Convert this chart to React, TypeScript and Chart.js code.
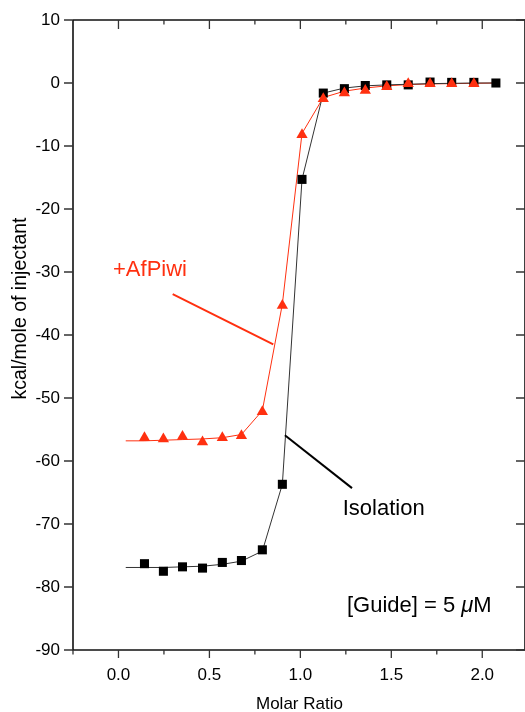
import React, { useEffect, useRef } from 'react';
import { Chart, registerables } from 'chart.js';

Chart.register(...registerables);

// ---------- data ----------
const molarRatio = [0.143, 0.247, 0.352, 0.462, 0.571, 0.676, 0.791, 0.901, 1.009, 1.126, 1.242, 1.357, 1.475, 1.593, 1.713, 1.832, 1.954, 2.075];
const isolationHeat = [-76.3, -77.5, -76.8, -77.0, -76.1, -75.8, -74.1, -63.7, -15.3, -1.6, -0.9, -0.4, -0.3, -0.3, 0.15, 0.1, 0.1, 0.0];

const afPiwiRatio = [0.143, 0.247, 0.352, 0.462, 0.571, 0.676, 0.791, 0.901, 1.009, 1.126, 1.242, 1.357, 1.475, 1.593, 1.713, 1.832, 1.954];
const afPiwiHeat = [-56.3, -56.5, -56.1, -57.0, -56.3, -56.0, -52.2, -35.3, -8.2, -2.5, -1.6, -1.2, -0.6, -0.1, -0.1, -0.1, -0.1];

const fitRatio = [0.04, 0.143, 0.247, 0.352, 0.462, 0.571, 0.676, 0.791, 0.901, 1.009, 1.126, 1.242, 1.357, 1.475, 1.593, 1.713, 1.832, 1.954, 2.075];
const isolationFit = [-76.9, -76.9, -76.9, -76.8, -76.7, -76.4, -75.9, -74.3, -63.7, -15.3, -1.6, -0.8, -0.45, -0.3, -0.2, -0.1, -0.05, 0, 0];
const afPiwiFit = [-56.8, -56.8, -56.7, -56.6, -56.5, -56.3, -55.8, -52.0, -35.1, -8.0, -2.3, -1.3, -0.8, -0.45, -0.25, -0.15, -0.1, -0.05, 0];

const xMajorTicks = [0, 0.5, 1.0, 1.5, 2.0];
const xMinorTicks = [0.25, 0.75, 1.25, 1.75];
const yMajorTicks = [10, 0, -10, -20, -30, -40, -50, -60, -70, -80, -90];

const xTitle = 'Molar Ratio';
const yTitle = 'kcal/mole of injectant';
const afPiwiLabel = '+AfPiwi';
const isolationLabel = 'Isolation';
const guideLabel = ['[Guide] = 5 ', 'μ', 'M'];

// ---------- styling ----------
const FONT = "'Liberation Sans', Arial, Helvetica, sans-serif";
const RED = '#ff3010';
const BLACK = '#000000';

const toXY = (xs: number[], ys: number[]) => xs.map((x, i) => ({ x, y: ys[i] }));

const decorPlugin = {
  id: 'decor',
  afterDraw(chart: any) {
    const { ctx, chartArea: a, scales } = chart;
    const sx = scales.x;
    const sy = scales.y;
    const X = (v: number) => sx.getPixelForValue(v);
    const Y = (v: number) => sy.getPixelForValue(v);
    ctx.save();

    // frame
    ctx.strokeStyle = '#111';
    ctx.lineWidth = 1.6;
    ctx.beginPath();
    ctx.moveTo(a.left, a.top);
    ctx.lineTo(a.right, a.top);
    ctx.moveTo(a.left, a.top);
    ctx.lineTo(a.left, a.bottom);
    ctx.lineTo(a.right, a.bottom);
    ctx.moveTo(a.right, a.top);
    ctx.lineTo(a.right, a.bottom);
    ctx.stroke();

    // ticks
    ctx.lineWidth = 1.3;
    ctx.strokeStyle = '#333';
    ctx.beginPath();
    for (const v of xMajorTicks) {
      const p = X(v);
      ctx.moveTo(p, a.bottom); ctx.lineTo(p, a.bottom + 8);
      ctx.moveTo(p, a.top); ctx.lineTo(p, a.top + 9);
    }
    for (const v of xMinorTicks) {
      const p = X(v);
      ctx.moveTo(p, a.bottom); ctx.lineTo(p, a.bottom + 4.5);
      ctx.moveTo(p, a.top); ctx.lineTo(p, a.top + 4.5);
    }
    ctx.moveTo(a.left, a.bottom); ctx.lineTo(a.left, a.bottom + 4.5);
    for (const v of yMajorTicks) {
      const p = Y(v);
      ctx.moveTo(a.left - 9, p); ctx.lineTo(a.left, p);
      ctx.moveTo(a.right - 9, p); ctx.lineTo(a.right, p);
    }
    ctx.stroke();

    // axis titles
    ctx.fillStyle = '#000';
    ctx.font = `17px ${FONT}`;
    ctx.textAlign = 'center';
    ctx.textBaseline = 'alphabetic';
    ctx.fillText(xTitle, X(0.995), 709);
    ctx.save();
    ctx.translate(26, Y(-35.8));
    ctx.rotate(-Math.PI / 2);
    ctx.font = `19.5px ${FONT}`;
    ctx.fillText(yTitle, 0, 0);
    ctx.restore();

    // annotations
    ctx.textAlign = 'left';
    ctx.font = `22px ${FONT}`;
    ctx.fillStyle = RED;
    ctx.fillText(afPiwiLabel, X(-0.03), Y(-30.7));
    ctx.strokeStyle = RED;
    ctx.lineWidth = 2;
    ctx.beginPath();
    ctx.moveTo(X(0.298), Y(-33.5));
    ctx.lineTo(X(0.851), Y(-41.5));
    ctx.stroke();

    ctx.fillStyle = BLACK;
    ctx.fillText(isolationLabel, X(1.233), Y(-68.5));
    ctx.strokeStyle = BLACK;
    ctx.beginPath();
    ctx.moveTo(X(0.915), Y(-55.9));
    ctx.lineTo(X(1.284), Y(-64.3));
    ctx.stroke();

    let gx = X(1.256);
    const gy = Y(-83.9);
    ctx.font = `22px ${FONT}`;
    ctx.fillText(guideLabel[0], gx, gy);
    gx += ctx.measureText(guideLabel[0]).width;
    ctx.font = `italic 22px ${FONT}`;
    ctx.fillText(guideLabel[1], gx, gy);
    gx += ctx.measureText(guideLabel[1]).width;
    ctx.font = `22px ${FONT}`;
    ctx.fillText(guideLabel[2], gx, gy);

    ctx.restore();
  },
};

export default function App() {
  const ref = useRef<HTMLCanvasElement | null>(null);

  useEffect(() => {
    if (!ref.current) return;
    const chart = new Chart(ref.current, {
      type: 'scatter',
      data: {
        datasets: [
          {
            label: '+AfPiwi',
            data: toXY(afPiwiRatio, afPiwiHeat),
            pointStyle: 'triangle',
            pointRadius: 6.5,
            backgroundColor: RED,
            borderColor: RED,
            borderWidth: 0,
            showLine: false,
            order: 0,
          },
          {
            label: 'Isolation',
            data: toXY(molarRatio, isolationHeat),
            pointStyle: 'rect',
            pointRadius: 6.4,
            backgroundColor: BLACK,
            borderColor: BLACK,
            borderWidth: 0,
            showLine: false,
            order: 1,
          },
          {
            label: 'Isolation fit',
            data: toXY(fitRatio, isolationFit),
            showLine: true,
            borderColor: '#333',
            borderWidth: 1,
            pointRadius: 0,
            fill: false,
            order: 2,
          },
          {
            label: '+AfPiwi fit',
            data: toXY(fitRatio, afPiwiFit),
            showLine: true,
            borderColor: RED,
            borderWidth: 1,
            pointRadius: 0,
            fill: false,
            order: 3,
          },
        ],
      },
      options: {
        animation: false,
        responsive: false,
        devicePixelRatio: 1,
        layout: { autoPadding: false, padding: { top: 20, right: 0, left: 0, bottom: 0 } },
        plugins: { legend: { display: false }, tooltip: { enabled: false } },
        scales: {
          x: {
            type: 'linear',
            min: -0.25,
            max: 2.235,
            grid: { display: false, drawTicks: false },
            border: { display: false },
            afterBuildTicks: (s: any) => {
              s.ticks = xMajorTicks.map((v) => ({ value: v }));
            },
            afterFit: (s: any) => {
              s.height = 62;
              s.paddingLeft = 0;
              s.paddingRight = 0;
            },
            ticks: {
              autoSkip: false,
              maxRotation: 0,
              padding: 15,
              color: '#000',
              font: { size: 17, family: FONT },
              callback: (v: any) => Number(v).toFixed(1),
            },
          },
          y: {
            type: 'linear',
            min: -90,
            max: 10,
            grid: { display: false, drawTicks: false },
            border: { display: false },
            afterBuildTicks: (s: any) => {
              s.ticks = yMajorTicks.map((v) => ({ value: v }));
            },
            afterFit: (s: any) => {
              s.width = 73;
              s.paddingTop = 0;
              s.paddingBottom = 0;
            },
            ticks: {
              autoSkip: false,
              padding: 13,
              color: '#000',
              font: { size: 17, family: FONT },
              callback: (v: any) => String(v),
            },
          },
        },
      },
      plugins: [decorPlugin],
    } as any);
    return () => chart.destroy();
  }, []);

  return (
    <div style={{ position: 'absolute', left: 0, top: 0, width: 525, height: 712, background: '#fff' }}>
      <canvas ref={ref} width={525} height={712} style={{ width: 525, height: 712, display: 'block' }} />
    </div>
  );
}
